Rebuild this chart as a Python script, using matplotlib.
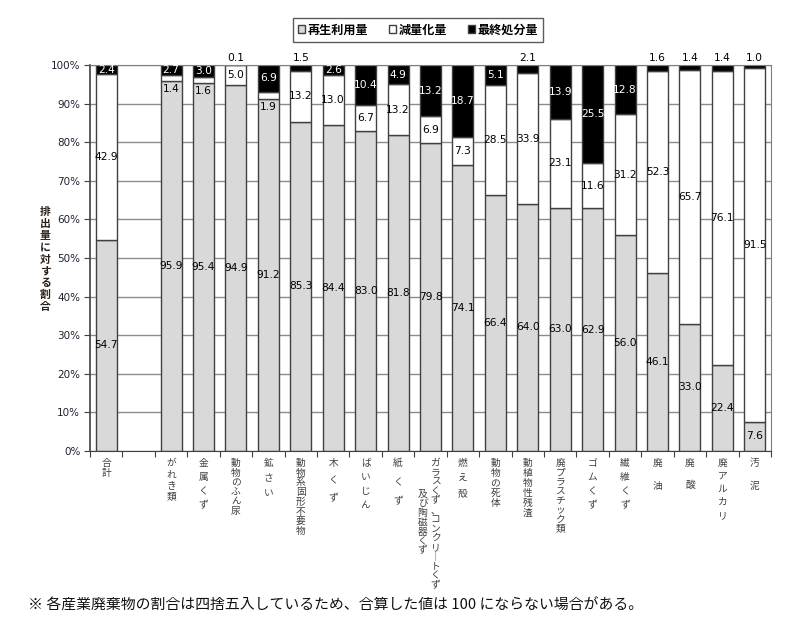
import matplotlib
matplotlib.use("Agg")
import matplotlib.pyplot as plt
from matplotlib.patches import Patch
from matplotlib.transforms import blended_transform_factory

plt.rcParams['font.family'] = ['Noto Sans CJK JP', 'DejaVu Sans']

categories = ["合計", "がれき類", "金属くず", "動物のふん尿", "鉱さい", "動物系固形不要物",
              "木くず", "ばいじん", "紙くず", "ガラスくず、コンクリートくず及び陶磁器くず",
              "燃え殻", "動物の死体", "動植物性残渣", "廃プラスチック類", "ゴムくず",
              "繊維くず", "廃油", "廃酸", "廃アルカリ", "汚泥"]
recycle = [54.7, 95.9, 95.4, 94.9, 91.2, 85.3, 84.4, 83.0, 81.8, 79.8,
           74.1, 66.4, 64.0, 63.0, 62.9, 56.0, 46.1, 33.0, 22.4, 7.6]
reduction = [42.9, 1.4, 1.6, 5.0, 1.9, 13.2, 13.0, 6.7, 13.2, 6.9,
             7.3, 28.5, 33.9, 23.1, 11.6, 31.2, 52.3, 65.7, 76.1, 91.5]
final = [2.4, 2.7, 3.0, 0.1, 6.9, 1.5, 2.6, 10.4, 4.9, 13.2,
         18.7, 5.1, 2.1, 13.9, 25.5, 12.8, 1.6, 1.4, 1.4, 1.0]
legend_labels = ["再生利用量", "減量化量", "最終処分量"]
yticks = [0, 10, 20, 30, 40, 50, 60, 70, 80, 90, 100]
ylabel = "排出量に対する割合"
footnote = "※ 各産業廃棄物の割合は四捨五入しているため、合算した値は 100 にならない場合がある。"

# style: vertical character step (px) per category label
label_steps = [10, 11.5, 14, 9.6, 15, 9.7, 17.5, 14, 19, 9.4,
               15, 10, 10, 9.5, 14, 14, 23, 22, 13, 23]

# positions: slot 1 is left empty after 合計
xpos = [0] + list(range(2, 2 + len(categories) - 1))

W, H = 802, 628
fig = plt.figure(figsize=(W / 100, H / 100), dpi=100)
ax = fig.add_axes([90 / W, 1 - 451 / H, 681 / W, 386 / H])

c_rec, c_red, c_fin = '#d9d9d9', '#ffffff', '#000000'
edge = '#404040'
bw = 0.65
bottoms2 = [r + d for r, d in zip(recycle, reduction)]
ax.bar(xpos, recycle, bw, color=c_rec, edgecolor=edge, linewidth=1, zorder=2)
ax.bar(xpos, reduction, bw, bottom=recycle, color=c_red, edgecolor=edge, linewidth=1, zorder=2)
ax.bar(xpos, final, bw, bottom=bottoms2, color=c_fin, edgecolor=edge, linewidth=1, zorder=2)

ax.set_xlim(-0.5, 20.5)
ax.set_ylim(0, 100)
ax.set_yticks(yticks)
ax.set_yticklabels([f"{v}%" for v in yticks], fontsize=7.5, color='#202030',
                   family=['DejaVu Sans'])
ax.yaxis.grid(True, color='#8c8c8c', linewidth=1, zorder=0)
ax.set_axisbelow(True)
ax.tick_params(axis='y', direction='out', length=4, color='#404040', pad=3)
ax.set_xticks([i - 0.5 for i in range(22)])
ax.set_xticklabels([])
ax.tick_params(axis='x', direction='out', length=4, color='#404040')
for s in ax.spines.values():
    s.set_color('#7f7f7f')
ax.spines['left'].set_color('#404040')
ax.spines['left'].set_linewidth(1.2)
ax.spines['bottom'].set_color('#404040')

fs = 7.7
lfam = ['DejaVu Sans']
for x, r, d, f in zip(xpos, recycle, reduction, final):
    ax.text(x, r / 2, f"{r:.1f}", ha='center', va='center', fontsize=fs, family=lfam, zorder=5)
    if d < 3:
        ax.annotate(f"{d:.1f}", (x, r), xytext=(0, -2), textcoords='offset points',
                    ha='center', va='top', fontsize=fs, family=lfam, zorder=5)
    else:
        ax.text(x, r + d / 2, f"{d:.1f}", ha='center', va='center', fontsize=fs,
                family=lfam, zorder=5)
    if f > 2.2:
        ax.text(x, r + d + f / 2, f"{f:.1f}", ha='center', va='center', fontsize=fs,
                family=lfam, color='white', zorder=5)
    else:
        ax.annotate(f"{f:.1f}", (x, 100), xytext=(0, 1.5), textcoords='offset points',
                    ha='center', va='bottom', fontsize=fs, family=lfam, zorder=5,
                    annotation_clip=False)

# vertical category labels
trans = blended_transform_factory(ax.transData, ax.transAxes)
lab_color = '#404040'


def vtext(x, text, dx, start, step):
    for i, ch in enumerate(text):
        if ch == 'ー':
            ch = '｜'
        ax.annotate(ch, (x, 0), xycoords=trans, xytext=(dx, -start - i * step),
                    textcoords='offset pixels', ha='center', va='top', fontsize=7,
                    color=lab_color, annotation_clip=False)


for x, name, st in zip(xpos, categories, label_steps):
    if '及び' in name:
        a, b = name.split('及び')
        vtext(x, a, 5, 7, st)
        vtext(x, '及び' + b, -8, 38, st)
    else:
        vtext(x, name, 0, 7, st)

# y label stacked vertically, one character per row
for i, ch in enumerate(ylabel):
    fig.text(45 / W, 1 - (212 + i * 11.9) / H, ch, ha='center', va='center', fontsize=7.8,
             fontweight='bold', color='#2a2018')

handles = [Patch(facecolor=c_rec, edgecolor=edge), Patch(facecolor=c_red, edgecolor=edge),
           Patch(facecolor=c_fin, edgecolor=edge)]
leg = fig.legend(handles, legend_labels, loc='center', bbox_to_anchor=(418 / W, 1 - 30 / H),
                 ncol=3, frameon=True, fancybox=False, handlelength=0.6,
                 handleheight=0.6, handletextpad=0.2, columnspacing=1.7, borderpad=0.45,
                 borderaxespad=0, prop={'weight': 'bold', 'size': 8.7})
leg.get_frame().set_edgecolor('#333333')
leg.get_frame().set_linewidth(1)

fig.text(28 / W, 1 - 606 / H, footnote, ha='left', va='center', fontsize=10.7, color='#111111')

fig.savefig("out.png", dpi=100)
